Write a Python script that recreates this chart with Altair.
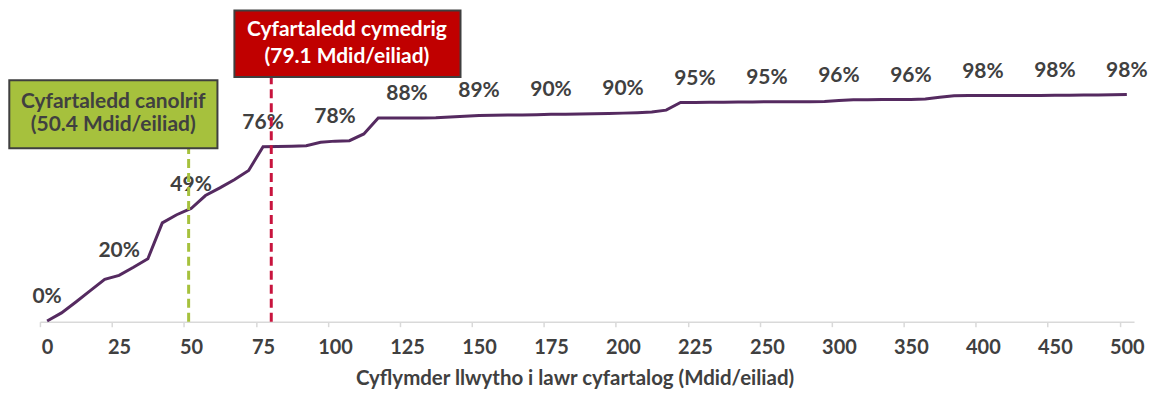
import altair as alt
import pandas as pd

# Category speeds (Mdid/eiliad) along the x axis, one per point of the line
speeds = [0, 5, 10, 15, 20, 25, 30, 35, 40, 45,
          50, 55, 60, 65, 70, 75, 80, 85, 90, 95,
          100, 105, 110, 115, 120, 125, 130, 135, 140, 145,
          150, 155, 160, 165, 170, 175, 180, 185, 190, 195,
          200, 205, 210, 215, 220, 225, 230, 235, 240, 245,
          250, 260, 270, 280, 290, 300, 310, 320, 330, 340,
          350, 360, 370, 380, 390, 400, 410, 420, 430, 440,
          450, 460, 470, 480, 490, 500]

# Cumulative share of premises (%) at each category
share_pct = [0.3, 3.8, 8.5, 13.4, 18.3, 20.0, 23.5, 27.2, 42.7, 46.2,
             48.9, 54.5, 57.8, 61.3, 65.3, 75.6, 75.7, 75.8, 76.0, 77.5,
             78.0, 78.2, 81.1, 88.0, 88.0, 88.0, 88.0, 88.1, 88.4, 88.8,
             89.1, 89.2, 89.3, 89.3, 89.4, 89.6, 89.6, 89.7, 89.8, 89.9,
             90.1, 90.3, 90.6, 91.4, 94.7, 94.7, 94.8, 94.8, 94.9, 94.9,
             95.0, 95.0, 95.0, 95.0, 95.1, 95.6, 95.9, 95.9, 96.0, 96.0,
             96.0, 96.2, 97.0, 97.6, 97.7, 97.7, 97.7, 97.7, 97.7, 97.7,
             97.8, 97.8, 97.9, 97.9, 98.0, 98.1]

tick_labels = ["0", "25", "50", "75", "100", "125", "150", "175", "200",
               "225", "250", "300", "350", "400", "450", "500"]

median_speed = 50.4
mean_speed = 79.1

df = pd.DataFrame({"idx": list(range(len(speeds))), "speed": speeds, "pct": share_pct})

W = 1097
H = 314
n_cat = len(speeds)
half_step = W / n_cat / 2

FONT = "Lato"
TXT = "#404040"
PURPLE = "#552A60"
GREEN = "#A6C13D"
RED_BOX = "#C00000"
RED_LINE = "#C8143E"

label_expr = "[" + ",".join("'%s'" % t for t in tick_labels) + "][round(datum.value / 5)]"

x_enc = alt.X(
    "idx:Q",
    scale=alt.Scale(domain=[-0.5, n_cat - 0.5], nice=False, zero=False),
    axis=alt.Axis(
        values=list(range(0, n_cat, 5)),
        labelExpr=label_expr,
        tickOffset=-half_step,
        labelOffset=half_step,
        domainColor="#D9D9D9",
        domainWidth=1.5,
        tickColor="#D9D9D9",
        tickWidth=1.5,
        tickSize=5,
        labelFont=FONT,
        labelFontSize=20,
        labelFontWeight="bold",
        labelColor=TXT,
        labelPadding=11,
        labelOverlap=False,
        labelFlush=False,
        grid=False,
        title="Cyflymder llwytho i lawr cyfartalog (Mdid/eiliad)",
        titleFont=FONT,
        titleFontSize=20.5,
        titleFontWeight="bold",
        titleColor=TXT,
        titleX=536,
        titleY=56.5,
        titleAlign="center",
        titleBaseline="middle",
    ),
)
y_enc = alt.Y("pct:Q", scale=alt.Scale(domain=[0, 135.3], nice=False, zero=True), axis=None)

base = alt.Chart(df)

line = base.mark_line(color=PURPLE, strokeWidth=3).encode(x=x_enc, y=y_enc)

labels = (
    base.transform_filter("datum.idx % 5 == 0")
    .transform_calculate(label="format(datum.pct, '.0f') + '%'")
    .mark_text(dy=-24, font=FONT, fontSize=21, fontWeight="bold", color=TXT)
    .encode(x="idx:Q", y="pct:Q", text="label:N")
)


def ref_rule(value, color, top_px):
    return (
        alt.Chart(pd.DataFrame({"speed": [value]}))
        .transform_calculate(idx="(datum.speed - 1.25) / 5")
        .mark_rule(color=color, strokeDash=[9, 5], strokeWidth=3)
        .encode(x="idx:Q", y=alt.datum(0), y2=alt.value(top_px))
    )


one = pd.DataFrame({"a": [0]})


def box(x1, x2, y1, y2, fill):
    return alt.Chart(one).mark_rect(fill=fill, stroke="#3F3F3F", strokeWidth=2).encode(
        x=alt.value(x1), x2=alt.value(x2), y=alt.value(y1), y2=alt.value(y2)
    )


def box_text(txt, cx, cy, color):
    return alt.Chart(one).mark_text(
        font=FONT, fontSize=21, fontWeight="bold", color=color, align="center", baseline="middle"
    ).encode(x=alt.value(cx), y=alt.value(cy), text=alt.value(txt))


median_rule = ref_rule(median_speed, GREEN, 140)
mean_rule = ref_rule(mean_speed, RED_LINE, 68.7)

green_box = box(-30.7, 178, 72, 140, GREEN)
green_t1 = box_text("Cyfartaledd canolrif", 73.5, 93.5, TXT)
green_t2 = box_text("(%.1f Mdid/eiliad)" % median_speed, 73.5, 117, TXT)

red_box = box(195, 421.7, 2, 68.7, RED_BOX)
red_t1 = box_text("Cyfartaledd cymedrig", 307.8, 22, "white")
red_t2 = box_text("(%.1f Mdid/eiliad)" % mean_speed, 307.8, 48.5, "white")

chart = (
    alt.layer(line, labels, median_rule, mean_rule,
              green_box, green_t1, green_t2, red_box, red_t1, red_t2)
    .properties(
        width=W,
        height=H,
        padding={"left": 32, "top": 0, "right": 14, "bottom": 68},
        autosize=alt.AutoSizeParams(type="none"),
        background="white",
    )
    .configure_view(stroke=None)
)

chart.save("out.html", embed_options={"renderer": "svg", "actions": False})
